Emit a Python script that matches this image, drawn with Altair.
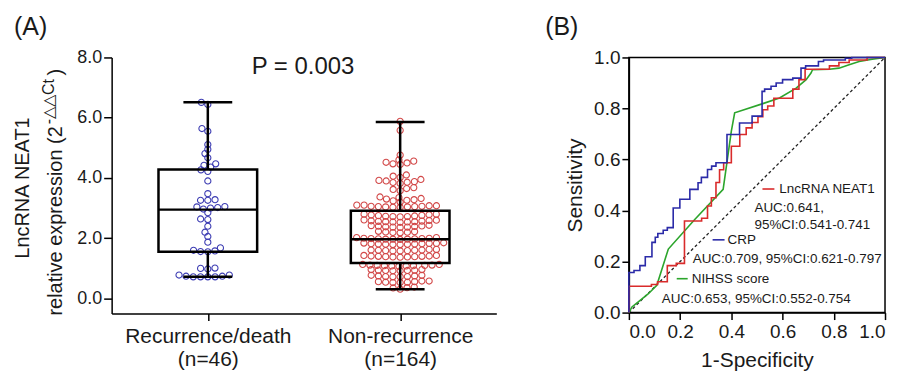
import altair as alt
import numpy as np
import pandas as pd

# ---------------- Panel A data ----------------
group_names = ["Recurrence/death", "Non-recurrence"]
group_sizes = ["(n=46)", "(n=164)"]
group_positions = [1, 2]

recurrence_expr = [
    6.51, 6.44, 5.64, 5.55, 5.11, 4.95, 4.81, 4.67, 4.47, 4.42, 4.36, 4.27,
    4.22, 3.90, 3.48, 3.28, 3.26, 3.26, 3.05, 3.02, 2.97, 3.00, 3.04, 2.85,
    2.64, 2.62, 2.40, 2.20, 2.06, 1.87, 1.68, 1.60, 1.56, 1.55, 1.58, 1.00,
    0.98, 1.01, 0.78, 0.74, 0.72, 0.72, 0.72, 0.72, 0.74, 0.78,
]

nonrecurrence_expr = [
    5.88, 5.58, 4.76,
    4.60, 4.52, 4.47, 4.45, 4.50, 4.56,
    4.10, 4.02, 4.06,
    3.95, 3.90, 3.85, 3.82, 3.88, 3.92, 3.86,
    3.68, 3.62, 3.58, 3.65,
    3.37, 3.30, 3.24, 3.20, 3.26, 3.32, 3.28, 3.35,
    3.10, 3.08, 3.06, 3.05, 3.04, 3.03, 3.03, 3.04, 3.05, 3.06, 3.08, 3.10,
    2.80, 2.77, 2.75, 2.73, 2.72, 2.71, 2.72, 2.74, 2.76, 2.78, 2.80,
    2.60, 2.58, 2.56, 2.55, 2.54, 2.53, 2.54, 2.55, 2.57, 2.59, 2.61,
    2.42, 2.40, 2.38, 2.37, 2.36, 2.37, 2.39, 2.41, 2.43,
    2.22, 2.20, 2.19, 2.18, 2.21, 2.23,
    2.02, 2.00, 1.99, 1.98, 1.97, 1.97, 1.96, 1.97, 1.98, 1.99, 2.00, 2.02,
    1.84, 1.83, 1.82, 1.81, 1.80, 1.79, 1.79, 1.80, 1.81, 1.82, 1.83, 1.85,
    1.63, 1.61, 1.60, 1.59, 1.58, 1.58, 1.59, 1.60, 1.61, 1.63,
    1.43, 1.41, 1.40, 1.39, 1.38, 1.37, 1.38, 1.39, 1.40, 1.41, 1.43,
    1.13, 1.11, 1.10, 1.09, 1.08, 1.07, 1.08, 1.09, 1.10, 1.11, 1.13,
    0.96, 0.94, 0.93, 0.92, 0.92, 0.93, 0.94, 0.96,
    0.77, 0.75, 0.73, 0.72, 0.72, 0.73, 0.75, 0.77,
    0.58, 0.56, 0.54, 0.53, 0.53, 0.54, 0.56, 0.58,
    0.38, 0.35, 0.31, 0.36,
]

box_q1 = [1.55, 1.18]
box_median = [2.95, 1.97]
box_q3 = [4.28, 2.91]
whisker_min = [0.72, 0.31]
whisker_max = [6.51, 5.86]
p_value_label = "P = 0.003"
y_ticks_a = [0, 2, 4, 6, 8]
y_title_a = ["LncRNA NEAT1", "relative expression (2", "-\u25b3\u25b3Ct", ")"]

# ---------------- Panel B data ----------------
roc_neat1 = [
    (0, 0), (0, 0.103), (0.088, 0.103), (0.088, 0.11), (0.112, 0.11), (0.112, 0.121),
    (0.15, 0.121), (0.15, 0.184), (0.185, 0.184), (0.185, 0.193), (0.217, 0.193),
    (0.217, 0.359), (0.284, 0.359), (0.284, 0.37), (0.307, 0.37), (0.307, 0.418),
    (0.322, 0.418), (0.322, 0.45), (0.34, 0.45), (0.34, 0.51), (0.354, 0.51),
    (0.354, 0.56), (0.37, 0.56), (0.37, 0.587), (0.40, 0.587), (0.40, 0.652),
    (0.433, 0.652), (0.433, 0.698), (0.458, 0.698), (0.458, 0.724), (0.481, 0.724),
    (0.481, 0.745), (0.504, 0.745), (0.504, 0.768), (0.523, 0.768), (0.523, 0.795),
    (0.542, 0.795), (0.542, 0.81), (0.566, 0.81), (0.566, 0.84), (0.64, 0.84),
    (0.64, 0.876), (0.664, 0.876), (0.664, 0.913), (0.688, 0.913), (0.688, 0.954),
    (0.783, 0.954), (0.783, 0.967), (0.82, 0.967), (0.82, 0.98), (0.86, 0.98),
    (0.86, 0.99), (0.93, 0.99), (0.93, 1.0), (1.0, 1.0),
]
roc_crp = [
    (0, 0), (0, 0.157), (0.02, 0.157), (0.02, 0.165), (0.043, 0.165), (0.043, 0.184),
    (0.064, 0.184), (0.064, 0.219), (0.09, 0.219), (0.09, 0.275), (0.103, 0.275),
    (0.103, 0.295), (0.113, 0.295), (0.113, 0.31), (0.134, 0.31), (0.134, 0.323),
    (0.15, 0.323), (0.15, 0.333), (0.173, 0.333), (0.173, 0.41), (0.199, 0.41),
    (0.199, 0.444), (0.238, 0.444), (0.238, 0.483), (0.27, 0.483), (0.27, 0.509),
    (0.283, 0.509), (0.283, 0.53), (0.307, 0.53), (0.307, 0.561), (0.323, 0.561),
    (0.323, 0.574), (0.34, 0.574), (0.34, 0.587), (0.383, 0.587), (0.383, 0.698),
    (0.432, 0.698), (0.432, 0.743), (0.481, 0.743), (0.481, 0.77), (0.52, 0.77),
    (0.52, 0.867), (0.53, 0.867), (0.53, 0.876), (0.555, 0.876), (0.555, 0.887),
    (0.575, 0.887), (0.575, 0.90), (0.60, 0.90), (0.60, 0.913), (0.64, 0.913),
    (0.64, 0.919), (0.672, 0.919), (0.672, 0.958), (0.69, 0.958), (0.69, 0.967),
    (0.74, 0.967), (0.74, 0.984), (0.76, 0.984), (0.76, 0.99), (0.845, 0.99),
    (0.845, 0.997), (0.87, 0.997), (0.87, 1.0), (1.0, 1.0),
]
roc_nihss = [
    (0, 0), (0.012, 0.022), (0.027, 0.034), (0.05, 0.053), (0.075, 0.073),
    (0.109, 0.107), (0.154, 0.249), (0.258, 0.366), (0.368, 0.483), (0.40, 0.711),
    (0.413, 0.783), (0.523, 0.819), (0.588, 0.841), (0.653, 0.88), (0.692, 0.913),
    (0.711, 0.939), (0.717, 0.952), (0.783, 0.954), (0.82, 0.958), (0.86, 0.971),
    (0.899, 0.984), (0.95, 0.993), (1.0, 1.0),
]
roc_names = ["LncRNA NEAT1", "CRP", "NIHSS score"]
auc_lines = ["AUC:0.641,", "95%CI:0.541-0.741",
             "AUC:0.709, 95%CI:0.621-0.797", "AUC:0.653, 95%CI:0.552-0.754"]
roc_ticks = [0, 0.2, 0.4, 0.6, 0.8, 1.0]
panel_tags = ["(A)", "(B)"]

# ---------------- styling / layout ----------------
FONT = "Liberation Sans"
TXT = "#1a1a1a"
BLUE_DOT, RED_DOT = "#3d3db3", "#d24848"
RED_LINE, BLUE_LINE, GREEN_LINE = "#d92b2b", "#2b2ba8", "#2ca52c"
AW, AH = 386, 257
BW, BH = 257, 256
A_XDOM = [0.5, 2.5]
A_YDOM = [-0.5, 8.0]
PX_X = AW / (A_XDOM[1] - A_XDOM[0])
PX_Y = AH / (A_YDOM[1] - A_YDOM[0])
BOX_HALF = 49.5 / PX_X
CAP_HALF = 24.5 / PX_X
SPACE_X = 7.3   # horizontal spacing of neighbouring dots (px)
SPACE_Y = 4.6   # vertical half-overlap allowance (px)


def swarm_offsets(values):
    """Greedy beeswarm with an elliptical collision zone (px units)."""
    vals = np.asarray(values, dtype=float)
    order = np.argsort(vals, kind="stable")
    placed = []
    xs = np.zeros(len(vals))
    for i in order:
        y = vals[i] * PX_Y
        cands = [0.0]
        for (px, py) in placed:
            dy = abs(py - y)
            if dy < SPACE_Y:
                dx = SPACE_X * np.sqrt(1 - (dy / SPACE_Y) ** 2)
                cands += [px + dx, px - dx]
        cands.sort(key=lambda c: (abs(c), c))
        for c in cands:
            if all(((c - px) / SPACE_X) ** 2 + ((y - py) / SPACE_Y) ** 2 >= 1 - 1e-6
                   for px, py in placed):
                xs[i] = c
                placed.append((c, y))
                break
    return xs


rows = []
for name, pos, vals in zip(group_names, group_positions, [recurrence_expr, nonrecurrence_expr]):
    offs = swarm_offsets(vals)
    for v, o in zip(vals, offs):
        rows.append({"grp": name, "x": pos + o / PX_X, "y": v})
dots_df = pd.DataFrame(rows)

box_df = pd.DataFrame({
    "pos": group_positions, "q1": box_q1, "med": box_median, "q3": box_q3,
    "lo": whisker_min, "hi": whisker_max,
})
box_df["bx1"] = box_df["pos"] - BOX_HALF
box_df["bx2"] = box_df["pos"] + BOX_HALF
box_df["cx1"] = box_df["pos"] - CAP_HALF
box_df["cx2"] = box_df["pos"] + CAP_HALF

label_expr = "datum.value == %d ? ['%s', '%s'] : ['%s', '%s']" % (
    group_positions[0], group_names[0], group_sizes[0], group_names[1], group_sizes[1])

axis_ax = alt.Axis(values=group_positions, labelExpr=label_expr, title=None,
                   labelFontSize=21, labelLineHeight=23, labelPadding=5,
                   tickSize=7, tickWidth=1.5, domainWidth=1.5, labelBaseline="top")
axis_ay = alt.Axis(values=y_ticks_a, format=".1f", title=None, labelFontSize=18,
                   labelPadding=2, tickSize=8, tickWidth=1.5, domainWidth=1.5)
sx_a = alt.Scale(domain=A_XDOM, nice=False, zero=False)
sy_a = alt.Scale(domain=A_YDOM, nice=False, zero=False)


def xa(f):
    return alt.X(f, type="quantitative", scale=sx_a, axis=axis_ax)


def ya(f):
    return alt.Y(f, type="quantitative", scale=sy_a, axis=axis_ay)


def note(text, x, y, size, align="left", baseline="middle", angle=0, color=TXT):
    return alt.Chart(pd.DataFrame({"t": [text]})).mark_text(
        align=align, baseline=baseline, fontSize=size, font=FONT, color=color, angle=angle
    ).encode(text="t:N", x=alt.value(x), y=alt.value(y))


dot_layers = []
for name, col in zip(group_names, [BLUE_DOT, RED_DOT]):
    dot_layers.append(
        alt.Chart(dots_df[dots_df["grp"] == name]).mark_point(
            shape="circle", filled=False, size=38, strokeWidth=1.1, opacity=1, color=col
        ).encode(x=xa("x"), y=ya("y"))
    )

box_base = alt.Chart(box_df)
boxes = box_base.mark_rect(fillOpacity=0, stroke="black", strokeWidth=2.5).encode(
    x=xa("bx1"), x2="bx2", y=ya("q1"), y2="q3")
medians = box_base.mark_rule(color="black", strokeWidth=2.5).encode(x=xa("bx1"), x2="bx2", y=ya("med"))
whisk_hi = box_base.mark_rule(color="black", strokeWidth=2.5).encode(x=xa("pos"), y=ya("q3"), y2="hi")
whisk_lo = box_base.mark_rule(color="black", strokeWidth=2.5).encode(x=xa("pos"), y=ya("lo"), y2="q1")
cap_hi = box_base.mark_rule(color="black", strokeWidth=2.5).encode(x=xa("cx1"), x2="cx2", y=ya("hi"))
cap_lo = box_base.mark_rule(color="black", strokeWidth=2.5).encode(x=xa("cx1"), x2="cx2", y=ya("lo"))

panel_a = alt.layer(
    *dot_layers, boxes, medians, whisk_hi, whisk_lo, cap_hi, cap_lo,
    note(p_value_label, 192, 10, 24, align="center"),
    note(panel_tags[0], -98, -31, 25),
    note(y_title_a[0], -83, 131, 20, align="center", baseline="alphabetic", angle=270),
    note(y_title_a[1], -50, 259, 20, align="left", baseline="alphabetic", angle=270),
    note(y_title_a[2], -58, 67, 16, align="left", baseline="alphabetic", angle=270),
    note(y_title_a[3], -50, 18, 20, align="left", baseline="alphabetic", angle=270),
).properties(width=AW, height=AH)

# ---------------- Panel B ----------------
axis_bx = alt.Axis(values=roc_ticks, format=".1f", title="1-Specificity", titleFontSize=21,
                   titleFontWeight="normal", titlePadding=8, labelFontSize=19, labelPadding=3,
                   tickSize=7, tickWidth=1.5, domainWidth=1.5)
axis_by = alt.Axis(values=roc_ticks, format=".1f", title="Sensitivity", titleFontSize=21,
                   titleFontWeight="normal", titlePadding=8, labelFontSize=19, labelPadding=2,
                   tickSize=7, tickWidth=1.5, domainWidth=1.5)
sx_b = alt.Scale(domain=[0, 1], nice=False)
sy_b = alt.Scale(domain=[0, 1], nice=False)


def roc_layer(pts, color, dash=None, width=1.6):
    df = pd.DataFrame({"idx": range(len(pts)),
                       "fpr": [p[0] for p in pts], "tpr": [p[1] for p in pts]})
    kw = dict(color=color, strokeWidth=width)
    if dash:
        kw["strokeDash"] = dash
    return alt.Chart(df).mark_line(**kw).encode(
        x=alt.X("fpr:Q", scale=sx_b, axis=axis_bx),
        y=alt.Y("tpr:Q", scale=sy_b, axis=axis_by),
        order="idx:Q",
    )


diag = roc_layer([(0, 0), (1, 1)], "#222222", dash=[3, 2.5], width=1.3)


def seg(x1, x2, y, color):
    return alt.Chart(pd.DataFrame({"a": [0]})).mark_rule(color=color, strokeWidth=1.6).encode(
        x=alt.value(x1), x2=alt.value(x2), y=alt.value(y))


LEG = 13.5
panel_b = alt.layer(
    diag,
    roc_layer(roc_nihss, GREEN_LINE),
    roc_layer(roc_neat1, RED_LINE),
    roc_layer(roc_crp, BLUE_LINE),
    seg(134, 146, 132, RED_LINE), note(roc_names[0], 151, 132, LEG),
    note(auc_lines[0], 126, 151, LEG), note(auc_lines[1], 126, 168, LEG),
    seg(84, 96, 183, BLUE_LINE), note(roc_names[1], 99, 183, LEG),
    note(auc_lines[2], 64, 202, LEG),
    seg(48, 59, 222, GREEN_LINE), note(roc_names[2], 63, 222, LEG),
    note(auc_lines[3], 33, 242, LEG),
    note(panel_tags[1], -84, -31, 25),
).properties(width=BW, height=BH, view=alt.ViewBackground(stroke="black", strokeWidth=1.5))

chart = alt.hconcat(panel_a, panel_b, spacing=133, bounds="flush").properties(
    padding={"left": 4, "top": 5, "right": 0, "bottom": 0}
).configure_view(stroke="transparent").configure_axis(
    grid=False, labelFont=FONT, titleFont=FONT, labelColor=TXT, titleColor=TXT,
    domainColor="black", tickColor="black",
)

chart.save("out.html", embed_options={"renderer": "svg", "actions": False})
